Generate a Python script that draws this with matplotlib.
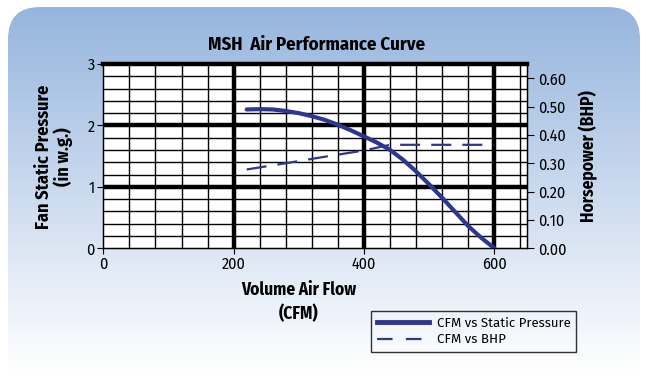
# -*- coding: utf-8 -*-
# MSH air performance curve
import numpy as np
import matplotlib
matplotlib.use('Agg')
import matplotlib.pyplot as plt
from matplotlib.patches import FancyBboxPatch
from matplotlib.lines import Line2D

# data
cfm_sp = [220, 240, 260, 280, 300, 320, 340, 360, 380, 400, 420, 440, 460, 480, 500,
          520, 540, 560, 580, 600]
static_pressure = [2.26, 2.265, 2.26, 2.235, 2.20, 2.15, 2.09, 2.01, 1.92, 1.82, 1.72, 1.60,
                   1.44, 1.25, 1.04, 0.82, 0.59, 0.36, 0.17, 0.0]
cfm_bhp = [220, 280, 340, 400, 440, 500, 600]
bhp = [0.278, 0.30, 0.323, 0.345, 0.365, 0.365, 0.365]

x_ticks = [0, 200, 400, 600]
sp_ticks = [0, 1, 2, 3]
bhp_ticks = [0.0, 0.1, 0.2, 0.3, 0.4, 0.5, 0.6]

navy = '#2e3690'
cond = ['Fira Sans Condensed', 'DejaVu Sans']
reg = ['Fira Sans', 'Liberation Sans', 'DejaVu Sans']
W, H = 649, 377

fig = plt.figure(figsize=(W / 100, H / 100), dpi=100)

# background panel with gradient
bg = fig.add_axes([0, 0, 1, 1], zorder=-5)
bg.axis('off')
top_c = np.array([150, 181, 222]) / 255.
grad = np.linspace(0, 1, 256)[:, None]
img = top_c[None, None, :] * (1 - grad[:, :, None]) + grad[:, :, None]
panel = FancyBboxPatch((8, 7), 632, 400, boxstyle='round,pad=0,rounding_size=32',
                       transform=bg.transData, facecolor='none', edgecolor='none')
bg.add_patch(panel)
im = bg.imshow(img, extent=(8, 640, 372, 7), aspect='auto', interpolation='bilinear')
im.set_clip_path(panel)
bg.set_xlim(0, W)
bg.set_ylim(H, 0)

# main axes
ax = fig.add_axes([103.3 / W, 1 - 248.3 / H, (527 - 103.3) / W, (248.3 - 64) / H])
ax.set_facecolor('white')
ax.set_xlim(0, 650)
ax.set_ylim(0, 3)
ax.set_xticks(x_ticks)
ax.set_yticks(sp_ticks)
ax.set_xticks(np.arange(40, 650, 40), minor=True)
ax.set_yticks(np.arange(0.2, 3, 0.2), minor=True)
ax.grid(which='minor', color='black', lw=1.0)
ax.tick_params(which='minor', length=0)
ax.tick_params(which='major', length=4, width=0.8, labelsize=11.5, pad=2)
for v in [200, 400, 600]:
    ax.axvline(v, color='black', lw=3.2, zorder=1.5)
for v in [1, 2]:
    ax.axhline(v, color='black', lw=3.2, zorder=1.5)
ax.spines['top'].set_linewidth(3.2)
for s in ['left', 'bottom', 'right']:
    ax.spines[s].set_linewidth(1.0)
for lab in ax.get_xticklabels() + ax.get_yticklabels():
    lab.set_family(cond)

ax.plot(cfm_sp, static_pressure, color=navy, lw=3.0, solid_capstyle='round',
        solid_joinstyle='round', zorder=3)

ax2 = ax.twinx()
ax2.set_ylim(0, 0.65)
ax2.set_yticks(bhp_ticks)
ax2.set_yticklabels(['%.2f' % t for t in bhp_ticks], family=cond)
ax2.tick_params(length=5, width=0.8, labelsize=11.5, pad=3)
ax2.plot(cfm_bhp, bhp, color=navy, lw=1.6, dashes=(9, 5), zorder=3)
ax2.set_ylabel('Horsepower (BHP)', family=cond, fontweight='bold', fontsize=12.5, labelpad=9)

# labels
fig.text(317 / W, 1 - 45 / H, 'MSH  Air Performance Curve', family=cond, fontweight='bold',
         fontsize=13.5, ha='center', va='center')
fig.text(54 / W, 1 - 157 / H, 'Fan Static Pressure\n(in w.g.)', family=cond, fontweight='bold',
         fontsize=13, rotation=90, ha='center', va='center', multialignment='center',
         linespacing=1.0)
fig.text(299 / W, 1 - 302 / H, 'Volume Air Flow\n(CFM)', family=cond, fontweight='bold',
         fontsize=12.5, ha='center', va='center', multialignment='center', linespacing=1.4)

# legend
handles = [Line2D([], [], color=navy, lw=3.5),
           Line2D([], [], color=navy, lw=1.6, dashes=(7, 6))]
leg = fig.legend(handles, ['CFM vs Static Pressure', 'CFM vs BHP'], loc='center',
                 bbox_to_anchor=(473.5 / W, 1 - 331.5 / H), frameon=True, fancybox=False,
                 prop={'family': reg, 'size': 9.5}, handlelength=4.0,
                 handletextpad=0.55, labelspacing=0.3, borderpad=0.45)
leg.get_frame().set_edgecolor('black')
leg.get_frame().set_linewidth(1.0)
leg.get_frame().set_facecolor('none')

fig.savefig('out.png', dpi=100)
